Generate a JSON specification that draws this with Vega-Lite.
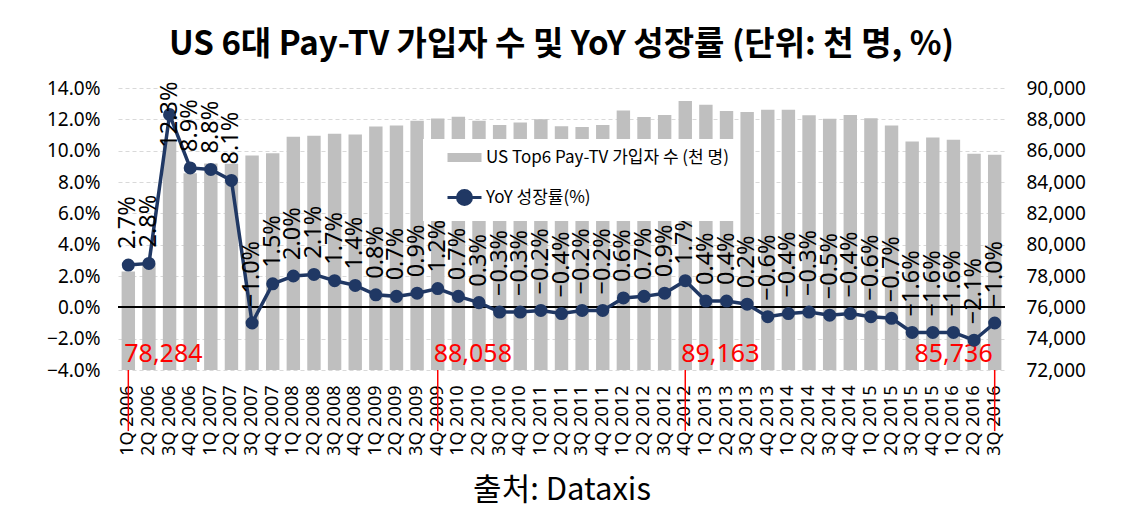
{
  "$schema": "https://vega.github.io/schema/vega-lite/v6.json",
  "width": 887,
  "height": 282,
  "autosize": "none",
  "padding": {"left": 118, "top": 88, "right": 120, "bottom": 151},
  "background": "white",
  "title": {
    "text": "US 6대 Pay-TV 가입자 수 및 YoY 성장률 (단위: 천 명, %)",
    "font": "Noto Sans CJK KR",
    "fontSize": 33,
    "fontWeight": "bold",
    "color": "black",
    "anchor": "middle",
    "offset": 17
  },
  "config": {
    "view": {"stroke": null},
    "axis": {"labelColor": "black", "labelFont": "Noto Sans", "ticks": false, "domain": false}
  },
  "data": {
    "values": [
      {"q": "1Q 2006", "subs": 78284, "yoy": 0.027, "hl": true},
      {"q": "2Q 2006", "subs": 78777, "yoy": 0.028, "hl": false},
      {"q": "3Q 2006", "subs": 86550, "yoy": 0.123, "hl": false},
      {"q": "4Q 2006", "subs": 84563, "yoy": 0.089, "hl": false},
      {"q": "1Q 2007", "subs": 85181, "yoy": 0.088, "hl": false},
      {"q": "2Q 2007", "subs": 85158, "yoy": 0.081, "hl": false},
      {"q": "3Q 2007", "subs": 85685, "yoy": -0.010, "hl": false},
      {"q": "4Q 2007", "subs": 85832, "yoy": 0.015, "hl": false},
      {"q": "1Q 2008", "subs": 86885, "yoy": 0.020, "hl": false},
      {"q": "2Q 2008", "subs": 86948, "yoy": 0.021, "hl": false},
      {"q": "3Q 2008", "subs": 87074, "yoy": 0.017, "hl": false},
      {"q": "4Q 2008", "subs": 87032, "yoy": 0.014, "hl": false},
      {"q": "1Q 2009", "subs": 87537, "yoy": 0.008, "hl": false},
      {"q": "2Q 2009", "subs": 87600, "yoy": 0.007, "hl": false},
      {"q": "3Q 2009", "subs": 87916, "yoy": 0.009, "hl": false},
      {"q": "4Q 2009", "subs": 88058, "yoy": 0.012, "hl": true},
      {"q": "1Q 2010", "subs": 88169, "yoy": 0.007, "hl": false},
      {"q": "2Q 2010", "subs": 87916, "yoy": 0.003, "hl": false},
      {"q": "3Q 2010", "subs": 87642, "yoy": -0.003, "hl": false},
      {"q": "4Q 2010", "subs": 87790, "yoy": -0.003, "hl": false},
      {"q": "1Q 2011", "subs": 88000, "yoy": -0.002, "hl": false},
      {"q": "2Q 2011", "subs": 87558, "yoy": -0.004, "hl": false},
      {"q": "3Q 2011", "subs": 87516, "yoy": -0.002, "hl": false},
      {"q": "4Q 2011", "subs": 87642, "yoy": -0.002, "hl": false},
      {"q": "1Q 2012", "subs": 88569, "yoy": 0.006, "hl": false},
      {"q": "2Q 2012", "subs": 88148, "yoy": 0.007, "hl": false},
      {"q": "3Q 2012", "subs": 88274, "yoy": 0.009, "hl": false},
      {"q": "4Q 2012", "subs": 89163, "yoy": 0.017, "hl": true},
      {"q": "1Q 2013", "subs": 88926, "yoy": 0.004, "hl": false},
      {"q": "2Q 2013", "subs": 88527, "yoy": 0.004, "hl": false},
      {"q": "3Q 2013", "subs": 88463, "yoy": 0.002, "hl": false},
      {"q": "4Q 2013", "subs": 88611, "yoy": -0.006, "hl": false},
      {"q": "1Q 2014", "subs": 88611, "yoy": -0.004, "hl": false},
      {"q": "2Q 2014", "subs": 88253, "yoy": -0.003, "hl": false},
      {"q": "3Q 2014", "subs": 88042, "yoy": -0.005, "hl": false},
      {"q": "4Q 2014", "subs": 88274, "yoy": -0.004, "hl": false},
      {"q": "1Q 2015", "subs": 88063, "yoy": -0.006, "hl": false},
      {"q": "2Q 2015", "subs": 87600, "yoy": -0.007, "hl": false},
      {"q": "3Q 2015", "subs": 86590, "yoy": -0.016, "hl": false},
      {"q": "4Q 2015", "subs": 86842, "yoy": -0.016, "hl": false},
      {"q": "1Q 2016", "subs": 86695, "yoy": -0.016, "hl": false},
      {"q": "2Q 2016", "subs": 85811, "yoy": -0.021, "hl": false},
      {"q": "3Q 2016", "subs": 85736, "yoy": -0.010, "hl": true}
    ]
  },
  "encoding": {
    "x": {
      "field": "q",
      "type": "ordinal",
      "sort": null,
      "scale": {"paddingInner": 0.35, "paddingOuter": 0.175},
      "axis": {
        "title": "출처: Dataxis",
        "titleFont": "Noto Sans CJK KR",
        "titleFontSize": 31,
        "titleFontWeight": "normal",
        "titleColor": "black",
        "titlePadding": 20,
        "labelAngle": -90,
        "labelFontSize": 18,
        "labelPadding": 15,
        "labelFont": "Noto Sans"
      }
    }
  },
  "layer": [
    {
      "encoding": {
        "y": {
          "field": "subs",
          "type": "quantitative",
          "scale": {"domain": [72000, 90000], "zero": false, "nice": false},
          "axis": {
            "orient": "right",
            "title": null,
            "values": [72000, 74000, 76000, 78000, 80000, 82000, 84000, 86000, 88000, 90000],
            "format": ",.0f",
            "labelFontSize": 19,
            "labelPadding": 21,
            "grid": false
          }
        }
      },
      "layer": [
        {
          "mark": {"type": "bar"},
          "encoding": {
            "y2": {"datum": 72000},
            "color": {
              "datum": "US Top6 Pay-TV 가입자 수 (천 명)",
              "scale": {"domain": ["US Top6 Pay-TV 가입자 수 (천 명)", "YoY 성장률(%)"], "range": ["#bfbfbf", "#203864"]},
              "legend": {
                "orient": "none",
                "legendX": 305,
                "legendY": 51,
                "title": null,
                "fillColor": "white",
                "padding": 10,
                "symbolSize": 100,
                "symbolOffset": 23,
                "labelOffset": 13,
                "rowPadding": 18,
                "labelFont": "Noto Sans CJK KR",
                "labelFontSize": 17,
                "labelColor": "black",
                "labelLimit": 400,
                "encode": {
                  "symbols": {
                    "update": {
                      "shape": {"signal": "datum.value === 'YoY 성장률(%)' ? 'M-3.4,0H3.4M1.4,0A1.4,1.4 0 1,1 -1.4,0A1.4,1.4 0 1,1 1.4,0Z' : 'M-3.4,-0.9H3.4V0.9H-3.4Z'"},
                      "fill": {"signal": "datum.value === 'YoY 성장률(%)' ? '#203864' : '#bfbfbf'"},
                      "stroke": {"signal": "datum.value === 'YoY 성장률(%)' ? '#203864' : '#bfbfbf'"},
                      "strokeWidth": {"signal": "datum.value === 'YoY 성장률(%)' ? 3 : 0"},
                      "opacity": {"value": 1},
                      "fillOpacity": {"value": 1},
                      "strokeOpacity": {"value": 1}
                    }
                  }
                }
              }
            }
          }
        },
        {
          "transform": [{"filter": "datum.hl"}],
          "mark": {"type": "rule", "color": "#ff0000", "strokeWidth": 1.5, "clip": false},
          "encoding": {
            "y": {"datum": 72000},
            "y2": {"datum": 68100}
          }
        },
        {
          "transform": [{"filter": "datum.hl && datum.q !== '3Q 2016'"}],
          "mark": {"type": "text", "color": "#ff0000", "font": "Noto Sans", "fontSize": 25, "align": "left", "baseline": "alphabetic", "dx": -4, "dy": -8},
          "encoding": {
            "y": {"datum": 72000},
            "text": {"field": "subs", "type": "quantitative", "format": ","}
          }
        },
        {
          "transform": [{"filter": "datum.q === '3Q 2016'"}],
          "mark": {"type": "text", "color": "#ff0000", "font": "Noto Sans", "fontSize": 25, "align": "right", "baseline": "alphabetic", "dx": -2, "dy": -8},
          "encoding": {
            "y": {"datum": 72000},
            "text": {"field": "subs", "type": "quantitative", "format": ","}
          }
        }
      ]
    },
    {
      "encoding": {
        "y": {
          "field": "yoy",
          "type": "quantitative",
          "scale": {"domain": [-0.04, 0.14], "nice": false},
          "axis": {
            "orient": "left",
            "title": null,
            "values": [-0.04, -0.02, 0, 0.02, 0.04, 0.06, 0.08, 0.10, 0.12, 0.14],
            "format": ".1%",
            "labelFontSize": 19,
            "labelPadding": 18,
            "grid": true,
            "gridColor": "#d9d9d9",
            "gridDash": [4, 3],
            "gridWidth": 1
          }
        }
      },
      "layer": [
        {
          "mark": {"type": "rule", "color": "black", "strokeWidth": 1},
          "encoding": {"y": {"datum": 0}, "x": null}
        },
        {
          "mark": {"type": "line", "color": "#203864", "strokeWidth": 3.5},
          "encoding": {
            "color": {"datum": "YoY 성장률(%)"}
          }
        },
        {
          "mark": {"type": "point", "filled": true, "size": 170, "opacity": 1},
          "encoding": {
            "color": {"datum": "YoY 성장률(%)"}
          }
        },
        {
          "transform": [{"filter": "datum.yoy < 0.12"}],
          "mark": {"type": "text", "font": "Noto Sans", "fontSize": 23.5, "color": "black", "angle": 270, "align": "left", "baseline": "middle", "dx": 16},
          "encoding": {
            "text": {"field": "yoy", "type": "quantitative", "format": ".1%"}
          }
        },
        {
          "transform": [{"filter": "datum.yoy >= 0.12"}],
          "mark": {"type": "text", "font": "Noto Sans", "fontSize": 23.5, "color": "black", "angle": 270, "align": "left", "baseline": "middle", "dx": -33},
          "encoding": {
            "text": {"field": "yoy", "type": "quantitative", "format": ".1%"}
          }
        }
      ]
    }
  ],
  "resolve": {"scale": {"y": "independent"}}
}
